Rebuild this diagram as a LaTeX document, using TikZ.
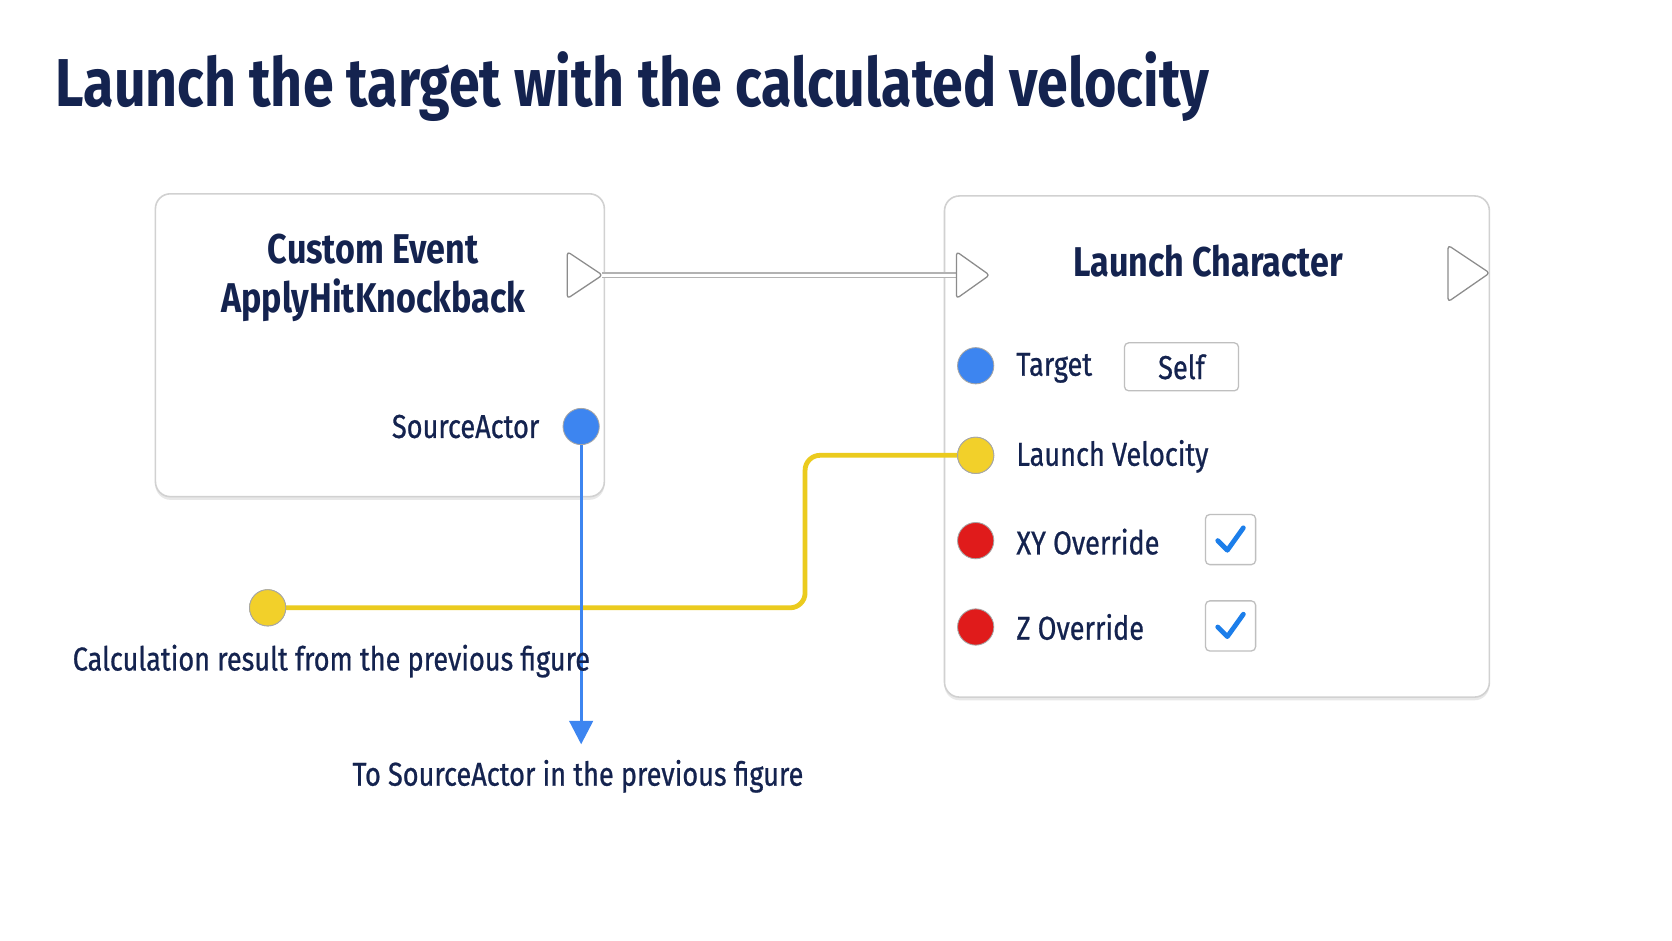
\documentclass[tikz,border=0pt]{standalone}
\usepackage{fontspec}
\setmainfont{Fira Sans}[FakeStretch=0.82]
\newfontfamily\med{Fira Sans}[FakeStretch=0.82,FakeBold=0.7]
\usetikzlibrary{shadows,arrows.meta}
\definecolor{navy}{HTML}{14234F}
\definecolor{pinblue}{HTML}{3D85F0}
\definecolor{pinyel}{HTML}{F2D02A}
\definecolor{pinred}{HTML}{E01B1B}
\definecolor{wireyel}{HTML}{EBCB1E}
\definecolor{chk}{HTML}{1C7EEA}
\begin{document}
\begin{tikzpicture}[x=1pt,y=-1pt,
  box/.style={draw=black!18,line width=1.5pt,fill=white,rounded corners=14pt,drop shadow={shadow xshift=0pt,shadow yshift=-3pt,opacity=0.18}},
  pin/.style={circle,minimum size=34pt,inner sep=0,draw=black!35,line width=0.8pt},
  lbl/.style={text=navy,font=\med\fontsize{31}{33}\selectfont,anchor=west,inner sep=0},
  ttl/.style={text=navy,font=\fontsize{39}{46}\selectfont\bfseries,align=center},
  exec/.style={draw=black!45,fill=white,line width=1.2pt,line join=round,rounded corners=3pt},
  cbox/.style={draw=black!25,line width=1.2pt,rounded corners=4pt,fill=white,minimum width=47pt,minimum height=47pt}]
\useasboundingbox (0,0) rectangle (1568,882);
\fill[white] (0,0) rectangle (1568,882);
\node[anchor=base west,text=navy,font=\fontsize{63.5}{70}\selectfont\bfseries,inner sep=0] (title) at (52,100) {Launch the target with the calculated velocity};
% boxes
\node[box,minimum width=421pt,minimum height=284pt,anchor=north west] (L) at (145,181) {};
\node[box,minimum width=511pt,minimum height=470pt,anchor=north west] (R) at (885,183) {};
\node[ttl] (ce) at (350,261) {Custom Event\\ApplyHitKnockback};
\node[ttl] (lc) at (1133,245) {Launch Character};
% exec wire
\coordinate (eo) at (565,258);
\coordinate (ei) at (897,258);
\draw[black!30,line width=6pt] (eo) -- (ei);
\draw[white,line width=3pt] (eo) -- (ei);
\draw[exec] (532,236) -- (565,258) -- (532,280) -- cycle;
\draw[exec] (897,236) -- (928,258) -- (897,280) -- cycle;
\draw[exec] (1358,230) -- (1397,256) -- (1358,283) -- cycle;
% source actor
\node[pin,fill=pinblue] (sa) at (545,400) {};
\node[lbl,anchor=east] (sal) at (506,400) {SourceActor};
\coordinate (sae) at (545,698);
\draw[pinblue,line width=3pt,-{Triangle[length=22pt,width=22pt]}] (sa.south) -- (sae);
\node[text=navy,font=\med\fontsize{31}{33}\selectfont] (tsa) at (542,728) {To SourceActor in the previous figure};
% yellow wire
\node[pin,fill=pinyel] (cr) at (251,570) {};
\node[pin,fill=pinyel] (lv) at (915,427) {};
\draw[wireyel,line width=4.5pt,rounded corners=14pt] (cr.east) -- (755,570) -- (755,427) -- (lv.west);
\node[pin,fill=pinyel] at (251,570) {};
\node[pin,fill=pinyel] at (915,427) {};
\draw[pinblue,line width=3pt] (545,560) -- (545,580);
\node[lbl] (crl) at (68,620) {Calculation result from the previous figure};
% pins right
\node[pin,fill=pinblue] (tg) at (915,343) {};
\node[pin,fill=pinred] (xy) at (915,507) {};
\node[pin,fill=pinred] (zo) at (915,588) {};
\node[lbl] (tgl) at (953,345) {Target};
\node[lbl] (lvl) at (953,428) {Launch Velocity};
\node[lbl] (xyl) at (953,508) {XY Override};
\node[lbl] (zol) at (953,588) {Z Override};
\node[draw=black!25,line width=1.2pt,rounded corners=4pt,minimum width=107pt,minimum height=45pt,text=navy,font=\med\fontsize{31}{33}\selectfont] (self) at (1108,344) {Self};
\node[cbox] (c1) at (1154,506) {};
\node[cbox] (c2) at (1154,587) {};
\foreach \c in {c1,c2}{
  \draw[chk,line width=4.5pt,line cap=round,line join=round] ([shift={(-12,1)}]\c.center) -- ([shift={(-3,10)}]\c.center) -- ([shift={(12,-11)}]\c.center);
}
\end{tikzpicture}
\end{document}
